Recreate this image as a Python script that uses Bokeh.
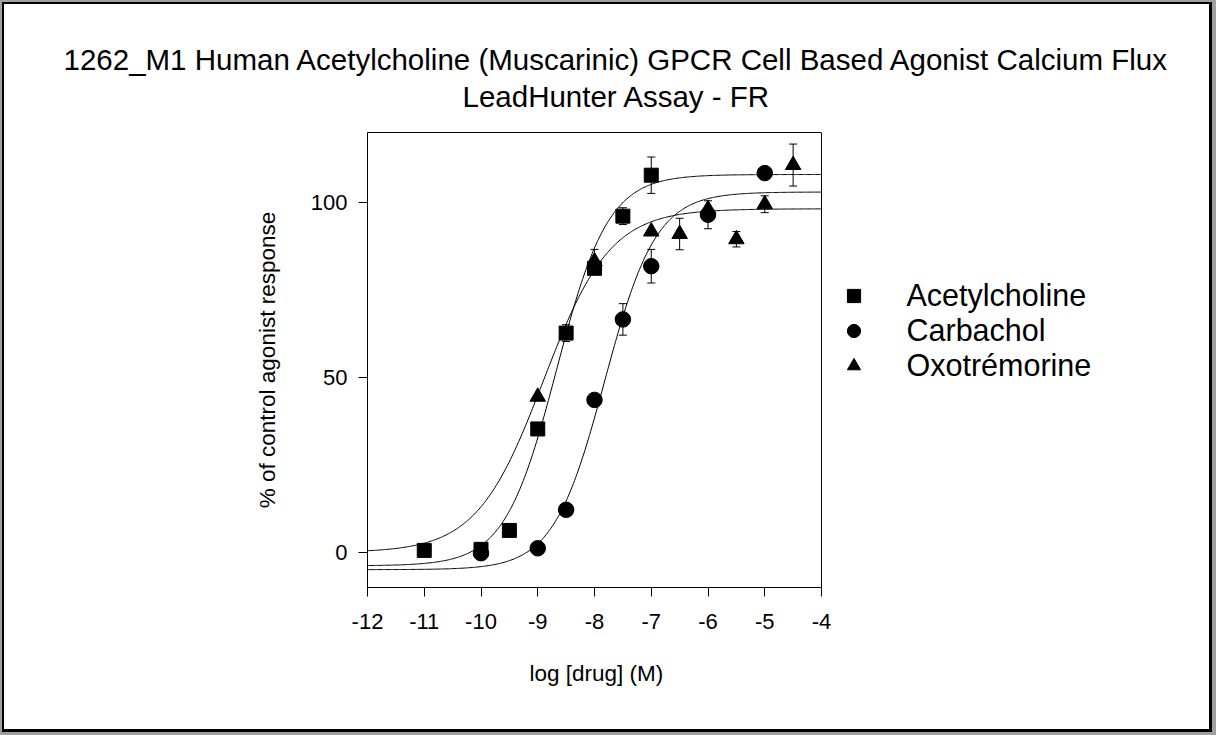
import numpy as np
from bokeh.plotting import figure
from bokeh.models import (ColumnDataSource, Whisker, TeeHead, FixedTicker, Title,
                          Legend, LegendItem, LinearAxis, Span)
from bokeh.embed import file_html
from bokeh.resources import INLINE

FONT = "Liberation Sans"

# --- measured responses (mean % of control, SEM) -------------------------
ach_log_dose = [-11, -10, -9.5, -9, -8.5, -8, -7.5, -7]
ach_resp = [0.6, 0.9, 6.3, 35.3, 62.7, 81.2, 96.1, 107.8]
ach_sem = [0, 0, 0, 0, 2.4, 0, 2.4, 5.2]

carb_log_dose = [-10, -9, -8.5, -8, -7.5, -7, -6, -5]
carb_resp = [-0.2, 1.2, 12.2, 43.6, 66.6, 81.8, 96.5, 108.4]
carb_sem = [0, 0, 0, 0, 4.5, 4.8, 4.0, 0]

oxo_log_dose = [-9, -8, -7, -6.5, -6, -5.5, -5, -4.5]
oxo_resp = [44.5, 83.2, 91.7, 91.0, 98.1, 89.5, 99.5, 110.7]
oxo_sem = [0, 3.4, 0, 4.5, 0, 2.2, 2.4, 6.0]

# --- four-parameter logistic fits: bottom, top, logEC50, Hill slope -------
drug_names = ["Acetylcholine", "Carbachol", "Oxotrémorine"]
fit_bottom = [-3.8, -4.9, 0.0]
fit_top = [108.0, 103.0, 98.2]
fit_log_ec50 = [-8.67, -7.82, -8.90]
fit_hill = [0.95, 0.96, 0.74]

x_bounds = (-12, -4)
y_bounds = (-10, 120)
x_ticks = [-12, -11, -10, -9, -8, -7, -6, -5, -4]
x_tick_labels = ["-12", "-11", "-10", "-9", "-8", "-7", "-6", "-5", "-4"]
y_ticks = [0, 50, 100]
y_tick_labels = ["0", "50", "100"]

title_lines = ["1262_M1 Human Acetylcholine (Muscarinic) GPCR Cell Based Agonist Calcium Flux",
               "LeadHunter Assay - FR"]
x_label = "log [drug] (M)"
y_label = "% of control agonist response"

# geometry: the data box spans x_bounds over 454 px; the frame continues to
# the right so the key can sit beside the box
LEFT, BOX_W, RIGHT_PAD, WIDTH = 367, 454, 16, 1216
frame_w = WIDTH - LEFT - RIGHT_PAD
x_end = x_bounds[0] + (x_bounds[1] - x_bounds[0]) * frame_w / BOX_W

p = figure(width=WIDTH, height=735, x_range=(x_bounds[0], x_end), y_range=y_bounds,
           output_backend="svg", toolbar_location=None,
           min_border_left=LEFT, min_border_right=RIGHT_PAD,
           min_border_top=132, min_border_bottom=148,
           background_fill_color="white", border_fill_alpha=0)
p.title = None

# page: white sheet with a black rule and a grey rim
p.styles = {
    "background-color": "white",
    "box-shadow": ("inset 2px 2px 0 0 #a0a0a0, inset -4px -3px 0 0 #a0a0a0, "
                   "inset 4px 4px 0 0 #000000, inset -7px -6px 0 0 #000000"),
}

p.xgrid.visible = False
p.ygrid.visible = False
p.outline_line_color = None

for ax in (p.xaxis[0], p.yaxis[0]):
    ax.axis_line_color = "black"
    ax.major_tick_line_color = "black"
    ax.minor_tick_line_color = None
    ax.major_tick_in = 0
    ax.major_tick_out = 9
    ax.major_label_text_font = FONT
    ax.major_label_text_font_size = "22px"
    ax.major_label_text_color = "black"
    ax.axis_label_text_font = FONT
    ax.axis_label_text_font_size = "22.5px"
    ax.axis_label_text_font_style = "normal"
    ax.axis_label_text_color = "black"

p.xaxis.bounds = x_bounds
p.xaxis.ticker = FixedTicker(ticks=x_ticks)
p.xaxis.major_label_overrides = dict(zip(x_ticks, x_tick_labels))
p.xaxis.major_label_standoff = 17

p.yaxis.bounds = y_bounds
p.yaxis.ticker = FixedTicker(ticks=y_ticks)
p.yaxis.major_label_overrides = dict(zip(y_ticks, y_tick_labels))
p.yaxis.major_label_standoff = 11
p.yaxis.axis_label = y_label
p.yaxis.axis_label_standoff = 28

# x label sits under the data box, not under the whole frame
p.add_layout(Title(text=x_label, align="left", offset=529 - LEFT, standoff=54,
                   text_font=FONT, text_font_size="22.5px", text_font_style="normal",
                   text_color="black"), "below")

# closing edges of the data box: top rule and right rule
top_rule = LinearAxis(bounds=x_bounds, ticker=FixedTicker(ticks=[]),
                      axis_line_color="black", major_tick_out=0, major_tick_in=0,
                      minor_tick_line_color=None, major_label_standoff=0)
p.add_layout(top_rule, "above")
p.add_layout(Span(location=x_bounds[1], dimension="height",
                  line_color="black", line_width=1))

# fitted curves
xs = np.linspace(x_bounds[0], x_bounds[1], 400)
for b, t, ec, h in zip(fit_bottom, fit_top, fit_log_ec50, fit_hill):
    ys = b + (t - b) / (1 + 10 ** ((ec - xs) * h))
    p.line(xs, ys, line_color="black", line_width=1)

# data points with error bars
series = [
    (ach_log_dose, ach_resp, ach_sem, "square", 14),
    (carb_log_dose, carb_resp, carb_sem, "circle", 15.5),
    (oxo_log_dose, oxo_resp, oxo_sem, "triangle", 15.5),
]
renderers = []
for xd, yd, sd, marker, size in series:
    src = ColumnDataSource(dict(x=xd, y=yd))
    r = p.scatter("x", "y", source=src, marker=marker, size=size,
                  fill_color="black", line_color="black")
    renderers.append(r)
    ex = [x for x, s in zip(xd, sd) if s > 0]
    lo = [y - s for y, s in zip(yd, sd) if s > 0]
    hi = [y + s for y, s in zip(yd, sd) if s > 0]
    esrc = ColumnDataSource(dict(x=ex, lower=lo, upper=hi))
    p.add_layout(Whisker(source=esrc, base="x", lower="lower", upper="upper",
                         line_color="black", line_width=1,
                         lower_head=TeeHead(size=8, line_color="black", line_width=1),
                         upper_head=TeeHead(size=8, line_color="black", line_width=1)))

legend = Legend(items=[LegendItem(label=n, renderers=[r]) for n, r in zip(drug_names, renderers)],
                location=(469.5, 204.5), orientation="vertical",
                glyph_width=33, glyph_height=35, label_height=35, label_standoff=37,
                spacing=0, padding=0, margin=0,
                label_text_font=FONT, label_text_font_size="30.5px",
                label_text_color="black",
                border_line_color=None, background_fill_alpha=0)
p.add_layout(legend)

# two-line heading, stacked outward from the box
TITLE_PX = 29.5
title_offsets = [616 - 1106 / 2 - LEFT, 616 - 308 / 2 - LEFT]
p.add_layout(Title(text=" ", standoff=6, text_font=FONT, text_font_size="10px"), "above")
p.add_layout(Title(text=title_lines[1], align="left", offset=title_offsets[1], standoff=2,
                   text_font=FONT, text_font_size=f"{TITLE_PX}px", text_font_style="normal",
                   text_color="black"), "above")
p.add_layout(Title(text=title_lines[0], align="left", offset=title_offsets[0], standoff=1,
                   text_font=FONT, text_font_size=f"{TITLE_PX}px", text_font_style="normal",
                   text_color="black"), "above")

open("out.html", "w").write(file_html(p, INLINE))
